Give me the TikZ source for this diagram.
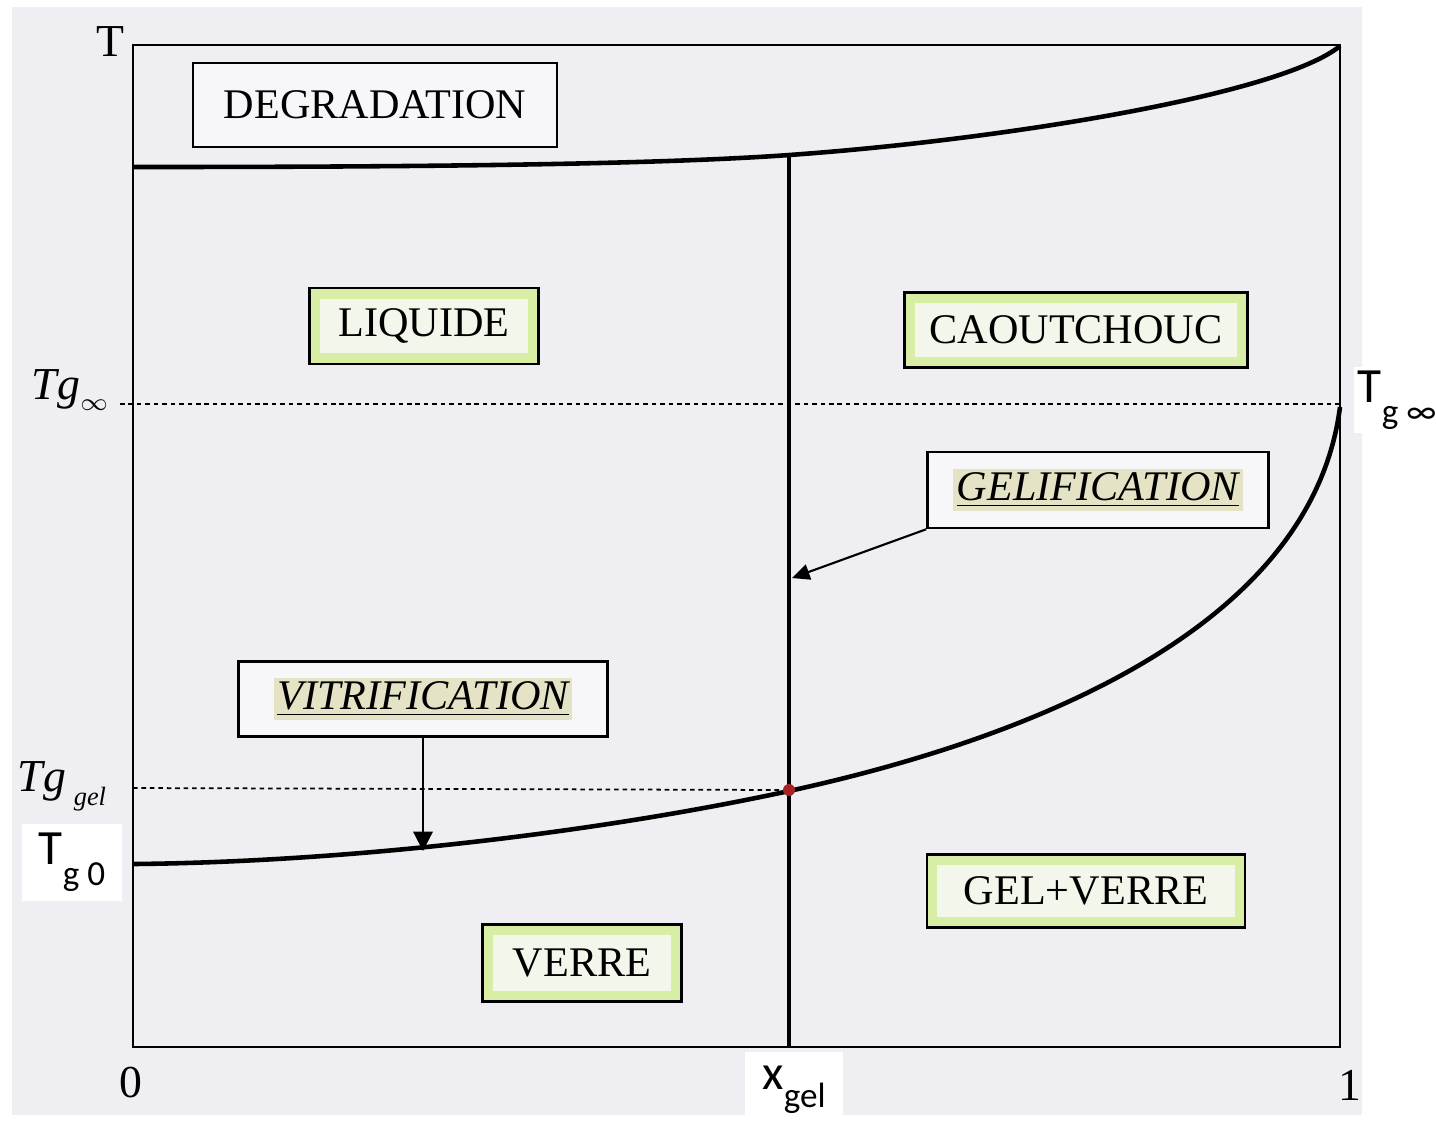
\documentclass[tikz,border=0pt]{standalone}
\usepackage{fontspec}
\setmainfont{Liberation Serif}
\newfontfamily\labelfont{Carlito}
\usepackage{xcolor}
\usetikzlibrary{arrows.meta,positioning,calc}

\definecolor{paper}{RGB}{238,238,243}
\definecolor{leaf}{RGB}{216,238,164}
\definecolor{leafin}{RGB}{243,246,234}
\definecolor{khaki}{RGB}{229,227,197}
\definecolor{gelred}{RGB}{165,35,35}
\setlength{\fboxsep}{1pt}

\begin{document}
\begin{tikzpicture}[
  x=0.01cm,y=-0.01cm,
  font=\fontsize{12}{14}\selectfont,
  box/.style={draw,line width=0.7pt,fill=white!55!paper,minimum height=0.76cm},
  phase/.style={draw,line width=0.7pt,fill=leaf,minimum height=0.75cm,
    path picture={\fill[leafin] ([shift={(3pt,-3pt)}]path picture bounding box.north west)
      rectangle ([shift={(-3pt,3pt)}]path picture bounding box.south east);}},
  event/.style={box,font=\fontsize{12}{14}\selectfont\itshape},
  sans/.style={fill=white,font=\labelfont\fontsize{14}{16}\selectfont,inner sep=1pt},
  curve/.style={line width=1.3pt,line join=round},
  level/.style={line width=0.5pt,dash pattern=on 1.3pt off 1.1pt},
  arrow/.style={line width=0.6pt,-{Triangle[length=5pt,width=4.5pt]}}
]
\fill[white] (0,0) rectangle (1436,1129);
\fill[paper] (12,7) rectangle (1362,1115);
\useasboundingbox (0,0) rectangle (1436,1129);

% frame
\draw[line width=0.7pt] (133,45) rectangle (1340,1047);

% phase boundaries
\draw[curve] (133,167) .. controls (400,167) and (650,165) .. (789,155)
  .. controls (1000,140) and (1280,95) .. (1340,46);
\draw[curve] (133,864) .. controls (350,862) and (600,832) .. (789,791)
  .. controls (1000,745) and (1310,640) .. (1340,407);

\coordinate (xtop) at (789,155);
\coordinate (xbot) at (789,1047);
\draw[line width=0.9pt] (xtop) -- (xbot);

\coordinate (tginfl) at (120,404);
\coordinate (tginfr) at (1340,404);
\coordinate (tggell) at (133,788);
\draw[level] (tginfl) -- (tginfr);

\node[circle,fill=gelred,inner sep=0pt,minimum size=3.4pt] (gelpt) at (789,790) {};
\draw[level] (tggell) -- (gelpt);

% regions
\node[box,minimum width=3.64cm,minimum height=0.84cm] (degr) at (375,105) {DEGRADATION};
\node[phase,minimum width=2.29cm,minimum height=0.76cm] (liquid) at (424,326) {LIQUIDE};
\node[phase,minimum width=3.43cm] (rubber) at (1076,330) {CAOUTCHOUC};
\node[phase,minimum width=3.18cm,minimum height=0.73cm] (gelglass) at (1086,891) {GEL+VERRE};
\node[phase,minimum width=1.99cm,minimum height=0.77cm] (glass) at (582,963) {VERRE};

% transitions
\node[event,minimum width=3.41cm] (gelbox) at (1098,490) {\colorbox{khaki}{\underline{GELIFICATION}}};
\node[event,minimum width=3.69cm,minimum height=0.75cm] (vitbox) at (423,699) {\colorbox{khaki}{\underline{VITRIFICATION}}};

\coordinate (gelhit) at (792,578);
\coordinate (vithit) at (423,851);
\draw[arrow] (gelbox.south west) -- (gelhit);
\draw[arrow,-{Triangle[length=5.5pt,width=5.5pt]}] (vitbox.south) -- (vithit);

% axis labels
\node (tlab) at (110,42) {\fontsize{13}{15}\selectfont T};
\node (zero) at (131,1082) {\fontsize{13}{15}\selectfont 0};
\node (one) at (1350,1085) {\fontsize{13}{15}\selectfont 1};
\node (tginf) at (70,390) {\fontsize{13}{15}\selectfont\itshape Tg\raisebox{-3pt}{\fontsize{7}{7}\selectfont$\infty$}};
\node (tggel) at (62,786) {\fontsize{13}{15}\selectfont\itshape Tg\,\raisebox{-4pt}{\fontsize{7.5}{8}\selectfont gel}};
\node[sans,minimum width=0.99cm,minimum height=0.77cm] (tgzero) at (72,862) {T\raisebox{-6pt}{\fontsize{10}{10}\selectfont g 0}};
\node[sans] (tginfright) at (1397,400) {T\raisebox{-6pt}{\fontsize{10}{10}\selectfont g ∞}};
\node[sans,minimum width=0.98cm,minimum height=0.77cm] (xgel) at (794,1090) {x\raisebox{-5pt}{\fontsize{10}{10}\selectfont gel}};
\end{tikzpicture}
\end{document}
